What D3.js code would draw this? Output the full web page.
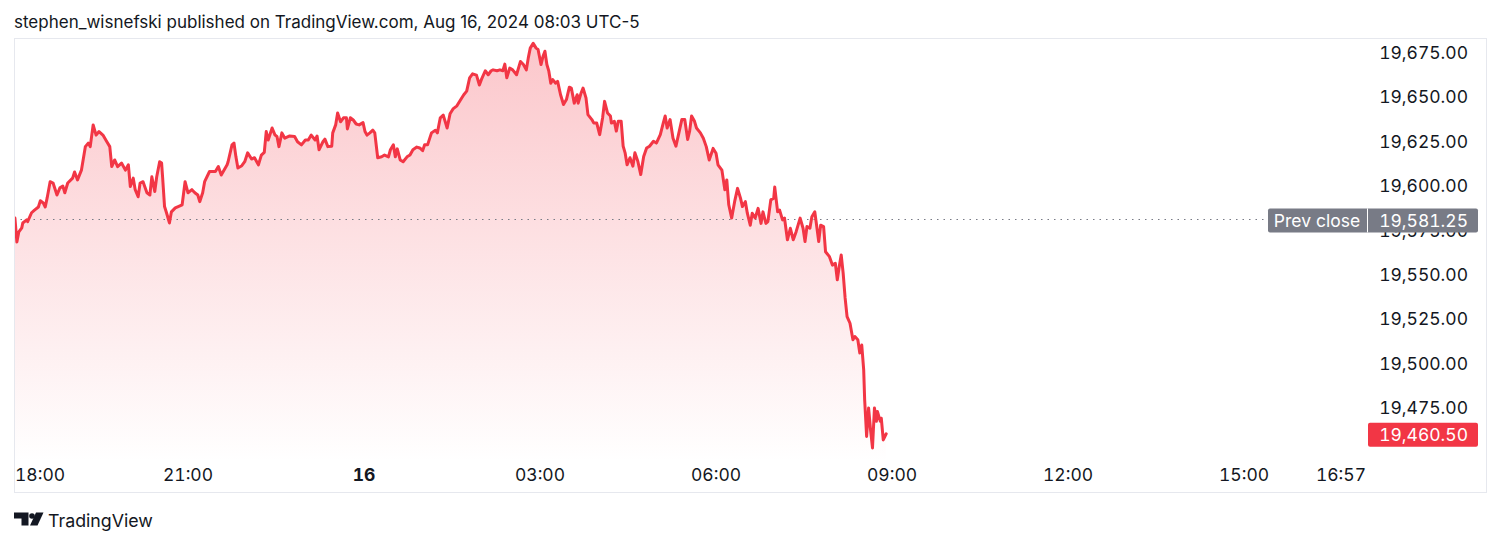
<!DOCTYPE html>
<html><head><meta charset="utf-8">
<script src="https://cdn.jsdelivr.net/npm/d3@7"></script>
<style>
html,body{margin:0;padding:0;background:#fff;}
svg{display:block;font-family:Inter,"Noto Sans",sans-serif;}
.num{font-variant-numeric:tabular-nums;}
</style></head><body>
<svg id="chart" width="1500" height="544"></svg>
<script>
// ---------- data ----------
const title = "stephen_wisnefski published on TradingView.com, Aug 16, 2024 08:03 UTC-5";
const brand = "TradingView";
const sessionStart = "2024-08-15T18:00:00";
// minutes after session start (Aug 15 18:00, UTC-5)
const minutes = [
  3,5,7,10,11,15,16,20,23,27,
  29,32,34,36,39,42,46,49,52,54,
  57,62,64,67,71,75,78,80,83,86,
  89,93,97,100,102,105,108,112,116,119,
  121,124,126,129,131,134,138,141,143,146,
  148,151,153,154,156,158,161,163,167,170,
  174,177,180,184,187,190,192,195,197,202,
  208,211,214,220,221,225,227,229,231,235,
  238,241,245,248,252,255,258,260,262,266,
  269,271,273,276,279,284,289,292,296,300,
  303,306,310,312,314,318,320,323,327,328,
  331,333,336,339,342,343,346,349,352,355,
  359,361,363,366,369,371,374,378,381,385,
  387,390,392,394,397,400,404,407,410,414,
  417,420,422,425,429,433,435,438,441,445,
  448,451,455,458,462,465,468,471,475,478,
  480,484,487,490,492,496,499,502,504,506,
  509,512,516,520,523,526,528,530,533,536,
  538,541,543,545,547,549,551,553,556,558,
  561,564,567,570,572,575,578,579,582,584,
  587,589,593,595,598,601,604,606,609,612,
  613,616,618,620,623,625,627,629,632,635,
  637,640,643,646,649,652,656,659,663,666,
  668,670,673,676,679,682,685,688,691,693,
  695,698,700,704,707,710,713,717,720,722,
  726,729,731,733,736,739,742,745,747,750,
  752,755,757,760,763,766,768,771,773,776,
  779,780,783,785,788,790,793,796,799,802,
  806,809,811,813,816,818,821,823,825,827,
  830,832,836,839,842,844,846,848,850,852,
  854,857,860,862,865,867,869,871,872,874,
  876,878,880,882,884,885,888,889,891,894
];
const prices = [
  19582,19568.5,19574.25,19576.5,19579.25,19581,19580,19585,19586.5,19588.25,
  19591.75,19590.5,19588.25,19593.5,19602.5,19601.75,19595,19599,19600,19596.25,
  19601.75,19604.5,19608,19603.5,19609,19622.25,19624.25,19622.25,19634.5,19628.75,
  19630.75,19628.75,19625,19622.25,19611,19614.75,19611,19613,19609,19612,
  19599.75,19604.5,19598,19594,19601.75,19602.5,19596.25,19595,19605.25,19597,
  19605.25,19613.75,19613,19605.25,19588.5,19585,19579.25,19585.5,19587.75,19588.5,
  19589.5,19602.5,19596.25,19598,19596.25,19595,19591.25,19596.25,19602.5,19608.25,
  19608.25,19611,19606.25,19612,19613.75,19623.25,19624.25,19616.5,19610.25,19611.5,
  19613.75,19618.75,19615.25,19616,19612,19617.5,19619,19630.75,19626,19632.75,
  19628.75,19628,19622.25,19630,19627,19628.25,19628,19625,19623.25,19626,
  19626,19628.75,19626,19628.25,19620.5,19625,19626.5,19622.25,19622.5,19630,
  19634.5,19641.25,19636.25,19638.5,19638.5,19632.25,19638.5,19637.25,19635,19634.5,
  19635.75,19630.75,19628.75,19630,19631.5,19630,19616,19616.5,19617.5,19616.5,
  19620.5,19623.25,19616.5,19621,19614.75,19613.75,19616.5,19617.5,19620.5,19622,
  19621.5,19620,19623.25,19623.25,19630,19631.5,19630,19638.5,19640,19632.75,
  19640.75,19643.5,19645.25,19648,19651.5,19653.5,19661,19663.25,19662.5,19657,
  19660,19665,19662.75,19665,19665.5,19665,19665.5,19665,19668.75,19661,
  19666.5,19665.5,19662.75,19670.25,19668.5,19665.5,19672.25,19677.75,19680.5,19677.75,
  19677,19668.5,19673,19676,19668.5,19664.75,19658,19660,19658,19659,
  19651.5,19646,19648.75,19655.75,19655.25,19646.75,19651.5,19646.75,19652.5,19655.25,
  19649.75,19640.25,19637.5,19635.5,19635.5,19629,19638.5,19647.75,19641.25,19639.5,
  19635.5,19636.5,19631,19636.5,19636.5,19622.5,19618.75,19612,19616,19611.25,
  19618.75,19614,19606.5,19616.75,19621.5,19622.5,19625.25,19624.25,19629,19635.5,
  19639.5,19632.75,19637.5,19627,19622.5,19630,19637.5,19637.5,19626.25,19631,
  19639.5,19636.5,19632.75,19630,19627,19622.25,19614.75,19621.25,19618.5,19612,
  19609,19598,19603.5,19589.5,19582,19591.25,19598.75,19593.25,19588.5,19591.25,
  19584.75,19578,19584.75,19582,19587.5,19579,19585.5,19579,19580,19592.25,
  19593.25,19599.5,19585.5,19586.5,19581,19582,19569.75,19576.25,19569.75,19574.5,
  19582,19576.25,19568.75,19577.25,19576.25,19582.75,19585.5,19577.25,19568.75,19578,
  19577.25,19563,19560.25,19555.5,19556.5,19547.25,19554.75,19561.25,19551,19537,
  19526.5,19522.75,19513.5,19515.25,19513.5,19506,19510.5,19496.5,19479.5,19459,
  19475,19462.75,19452.5,19475,19467.5,19473,19467.5,19469.25,19457,19460.5
];
const prevClose = 19581.25;
const lastPrice = 19460.50;
const yTicks = [19475, 19500, 19525, 19550, 19575, 19600, 19625, 19650, 19675];
const xTickMinutes = [0, 180, 360, 540, 720, 900, 1080, 1260, 1377];
const xTickLabels = ["18:00", "21:00", "16", "03:00", "06:00", "09:00", "12:00", "15:00", "16:57"];
const xTickBold = [false, false, true, false, false, false, false, false, false];

// ---------- layout ----------
const frame = {x0: 14, y0: 38, x1: 1487, y1: 493};
const pane = {x0: 14, x1: 1368, y0: 38, y1: 462};
const RED = "#F23645", GREY = "#787B86", TEXT = "#131722";
const FS = 17.5;

const svg = d3.select("#chart");
const t0 = new Date(sessionStart);
const toDate = m => new Date(t0.getTime() + m * 60000);
const data = minutes.map((m, i) => ({t: toDate(m), p: prices[i]})).filter(d => d.p != null);

const x = d3.scaleTime()
  .domain([toDate(0), toDate(1440)])
  .range([12, 12 + 24 * 58.67]);
const y = d3.scaleLinear().domain([19475, 19675]).range([408, 53]);
const fmt = d3.format(",.2f");

// header
svg.append("text").attr("x", 14).attr("y", 28)
  .attr("font-size", 17).attr("fill", TEXT).text(title);

// frame
svg.append("rect").attr("x", frame.x0 + 0.5).attr("y", frame.y0 + 0.5)
  .attr("width", frame.x1 - frame.x0 - 1).attr("height", frame.y1 - frame.y0 - 1)
  .attr("fill", "none").attr("stroke", "#E6E8EE").attr("stroke-width", 1);

// clip
const defs = svg.append("defs");
defs.append("clipPath").attr("id", "paneClip").append("rect")
  .attr("x", pane.x0 + 1).attr("y", pane.y0 + 1)
  .attr("width", pane.x1 - pane.x0 - 1).attr("height", pane.y1 - pane.y0);

const topY = y(d3.max(prices));
const grad = defs.append("linearGradient").attr("id", "areaGrad")
  .attr("gradientUnits", "userSpaceOnUse")
  .attr("x1", 0).attr("x2", 0).attr("y1", topY).attr("y2", pane.y1);
grad.append("stop").attr("offset", 0).attr("stop-color", RED).attr("stop-opacity", 0.28);
grad.append("stop").attr("offset", 1).attr("stop-color", RED).attr("stop-opacity", 0.0);

const g = svg.append("g").attr("clip-path", "url(#paneClip)");

g.append("path").datum(data)
  .attr("d", d3.area().x(d => x(d.t)).y0(pane.y1).y1(d => y(d.p)))
  .attr("fill", "url(#areaGrad)");

// prev close dotted line
const pcLineY = Math.round(y(prevClose)) + 0.5;
g.append("line")
  .attr("x1", pane.x0).attr("x2", 1268)
  .attr("y1", pcLineY).attr("y2", pcLineY)
  .attr("stroke", GREY).attr("stroke-width", 1.2).attr("stroke-dasharray", "1.5,5");

g.append("path").datum(data)
  .attr("d", d3.line().x(d => x(d.t)).y(d => y(d.p)))
  .attr("fill", "none").attr("stroke", RED).attr("stroke-width", 3)
  .attr("stroke-linejoin", "round").attr("stroke-linecap", "round");

// y axis labels
const yAxis = d3.axisRight(y).tickValues(yTicks).tickFormat(fmt).tickSize(0);
const ya = svg.append("g").attr("transform", "translate(1468,0)").call(yAxis);
ya.select(".domain").remove();
ya.selectAll("text").attr("x", 0).attr("text-anchor", "end").attr("class", "num")
  .attr("font-family", "Inter,'Noto Sans',sans-serif").attr("font-size", FS).attr("fill", TEXT);

// x axis labels
const xg = svg.append("g");
xTickMinutes.forEach((m, i) => {
  const txt = xg.append("text").attr("class", "num")
    .attr("y", 481).attr("font-size", FS).attr("fill", TEXT)
    .attr("font-weight", xTickBold[i] ? 700 : 400)
    .attr("text-anchor", "middle").text(xTickLabels[i]);
  const w = txt.node().getComputedTextLength();
  let cx = x(toDate(m));
  cx = Math.max(pane.x0 + w / 2 + 1, Math.min(pane.x1 - w / 2 - 2, cx));
  txt.attr("x", cx);
});

// prev close label
const pcY = y(prevClose) + 1;
const pc = svg.append("g");
pc.append("rect").attr("x", 1268).attr("y", pcY - 12).attr("width", 210).attr("height", 24)
  .attr("rx", 2).attr("fill", GREY);
pc.append("line").attr("x1", 1367.5).attr("x2", 1367.5).attr("y1", pcY - 12).attr("y2", pcY + 12)
  .attr("stroke", "#fff").attr("stroke-width", 1);
pc.append("text").attr("x", 1317).attr("y", pcY).attr("dy", "0.36em")
  .attr("text-anchor", "middle").attr("font-size", FS).attr("fill", "#fff").text("Prev close");
pc.append("text").attr("x", 1468).attr("y", pcY).attr("dy", "0.36em").attr("class", "num")
  .attr("text-anchor", "end").attr("font-size", FS).attr("fill", "#fff").text(fmt(prevClose));

// last price label
const lpY = y(lastPrice) + 1;
svg.append("rect").attr("x", 1368).attr("y", lpY - 12).attr("width", 110).attr("height", 24)
  .attr("rx", 2).attr("fill", RED);
svg.append("text").attr("x", 1468).attr("y", lpY).attr("dy", "0.36em").attr("class", "num")
  .attr("text-anchor", "end").attr("font-size", FS).attr("fill", "#fff").text(fmt(lastPrice));

// logo
const logo = svg.append("g").attr("fill", TEXT);
logo.append("path").attr("d", "M14,512.5 H28.5 V525.5 H21.5 V518.5 H14 Z");
logo.append("circle").attr("cx", 32).attr("cy", 516).attr("r", 2.8);
logo.append("path").attr("d", "M36,512.5 H43.5 L37.5,525.5 H30 Z");
svg.append("text").attr("x", 48).attr("y", 527).attr("font-size", 17.8)
  .attr("fill", TEXT).text(brand);
</script>
</body></html>
